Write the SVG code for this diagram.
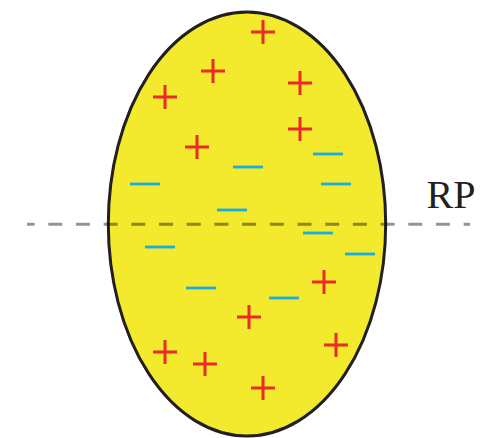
<svg xmlns="http://www.w3.org/2000/svg" width="485" height="438" viewBox="0 0 485 438">
<defs>
<style>
.plus{stroke:#ec2a26;stroke-width:3;fill:none}
.minus{stroke:#19ade0;stroke-width:2.8;fill:none}
</style>
<path id="p" class="plus" d="M-12,0H12M0,-12V12"/>
<path id="m" class="minus" d="M-15,0H15"/>
</defs>
<rect width="485" height="438" fill="#fff"/>
<g id="body">
<ellipse cx="247" cy="224" rx="138.7" ry="212" fill="#f3ea2d" stroke="#231f20" stroke-width="3"/>
</g>
<g id="charges">
<use href="#p" x="263" y="32"/>
<use href="#p" x="213" y="71"/>
<use href="#p" x="165" y="97"/>
<use href="#p" x="300" y="83"/>
<use href="#p" x="300" y="129"/>
<use href="#p" x="197" y="147"/>
<use href="#p" x="324" y="282"/>
<use href="#p" x="249" y="317"/>
<use href="#p" x="165" y="352"/>
<use href="#p" x="205" y="364"/>
<use href="#p" x="263" y="388"/>
<use href="#p" x="336" y="345"/>
<use href="#m" x="328" y="154"/>
<use href="#m" x="248" y="167"/>
<use href="#m" x="145" y="184"/>
<use href="#m" x="336" y="184"/>
<use href="#m" x="232" y="210"/>
<use href="#m" x="318" y="233"/>
<use href="#m" x="160" y="247"/>
<use href="#m" x="360" y="254"/>
<use href="#m" x="201" y="288"/>
<use href="#m" x="284" y="298"/>
</g>
<g id="connectors">
<line x1="27" y1="224.3" x2="470" y2="224.3" stroke="#000" stroke-opacity="0.42" stroke-width="3" stroke-dasharray="14 13.69" stroke-dashoffset="6.4"/>
</g>
<g id="label">
<text x="426.5" y="208" font-family="Liberation Serif, serif" font-size="40" fill="#231f20">RP</text>
</g>
</svg>
